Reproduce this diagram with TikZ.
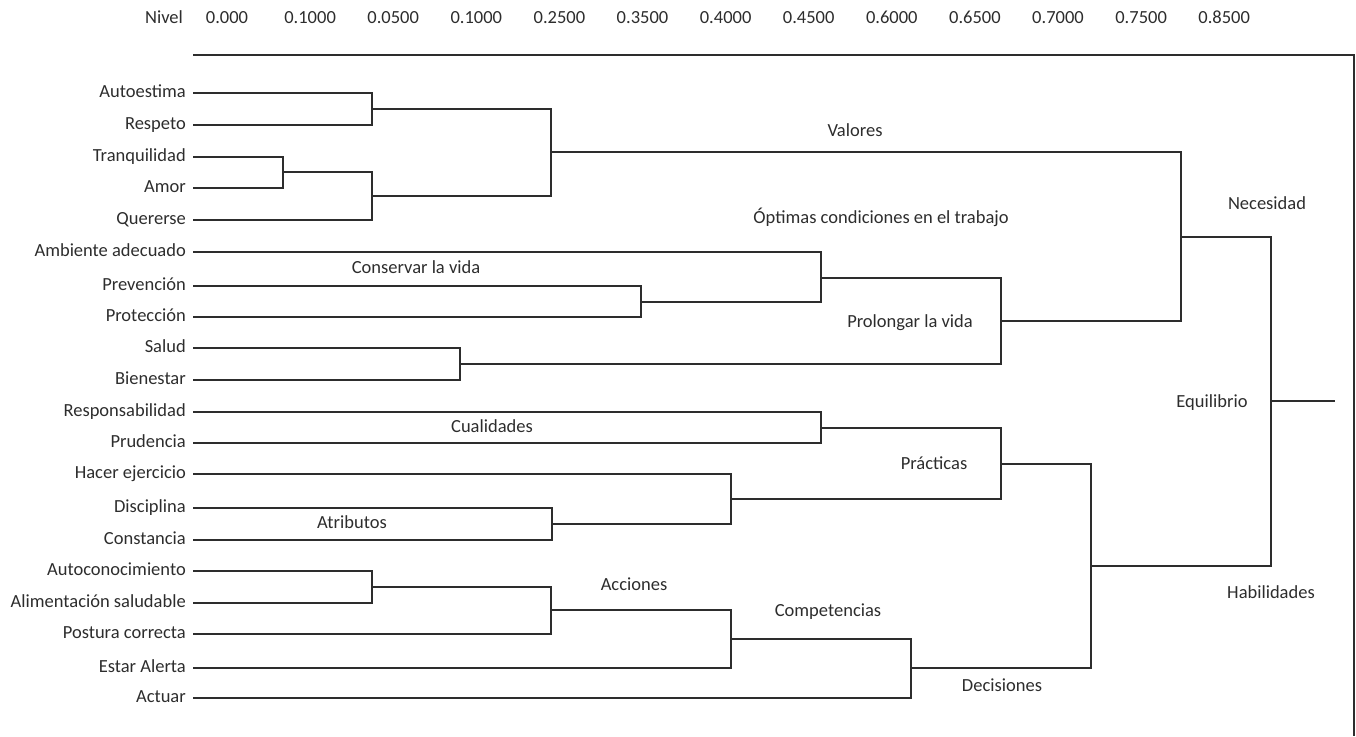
\documentclass[tikz,border=0pt]{standalone}
\usepackage{fontspec}
\setmainfont{Carlito}
\definecolor{ink}{RGB}{45,45,45}
\begin{document}
\begin{tikzpicture}[x=1pt,y=-1pt,
  lbl/.style={font=\fontsize{18.5}{20}\selectfont, text=ink, inner sep=0pt},
  leaf/.style={lbl, anchor=base east},
  grp/.style={lbl, anchor=mid},
  link/.style={draw=ink, line width=1.2pt}]
\useasboundingbox (0,0) rectangle (1356,736);
% axis header
\node[grp] (nivel) at (164,21) {Nivel};
\foreach \v [count=\k from 0] in {0.000,0.1000,0.0500,0.1000,0.2500,0.3500,0.4000,0.4500,0.6000,0.6500,0.7000,0.7500,0.8500}
  \node[grp] (t\k) at (227+83.1*\k,21) {\v};
% frame
\coordinate (f1) at (193,55);
\coordinate (f2) at (1354,55);
\coordinate (f3) at (1354,736);
\draw[link] (f1) -- (f2) -- (f3);
% leaves
\foreach \i/\y/\t in {1/93/Autoestima,2/125/Respeto,3/157/Tranquilidad,4/188/Amor,5/220/Quererse,
  6/252/Ambiente adecuado,7/286/Prevención,8/317/Protección,9/348/Salud,10/380/Bienestar,
  11/412/Responsabilidad,12/443/Prudencia,13/474/Hacer ejercicio,14/508/Disciplina,15/540/Constancia,
  16/571/Autoconocimiento,17/603/Alimentación saludable,18/634/Postura correcta,19/668/Estar Alerta,20/698/Actuar}{
  \coordinate (s\i) at (193,\y);
  \node[leaf] (l\i) at (186,\y+4) {\t};
}
% merges
\coordinate (m1) at (372,109);  \draw[link] (s1) -| (m1) |- (s2);
\coordinate (m2) at (283,172);  \draw[link] (s3) -| (m2) |- (s4);
\coordinate (m3) at (372,196);  \draw[link] (m2) -| (m3) |- (s5);
\coordinate (m4) at (551,152);  \draw[link] (m1) -| (m4) |- (m3);
\coordinate (m5) at (641,302);  \draw[link] (s7) -| (m5) |- (s8);
\coordinate (m6) at (821,278);  \draw[link] (s6) -| (m6) |- (m5);
\coordinate (m7) at (460,364);  \draw[link] (s9) -| (m7) |- (s10);
\coordinate (m8) at (1001,321); \draw[link] (m6) -| (m8) |- (m7);
\coordinate (m9) at (1181,237); \draw[link] (m4) -| (m9) |- (m8);
\coordinate (m10) at (821,428); \draw[link] (s11) -| (m10) |- (s12);
\coordinate (m11) at (552,524); \draw[link] (s14) -| (m11) |- (s15);
\coordinate (m12) at (731,499); \draw[link] (s13) -| (m12) |- (m11);
\coordinate (m13) at (1001,464); \draw[link] (m10) -| (m13) |- (m12);
\coordinate (m14) at (372,587); \draw[link] (s16) -| (m14) |- (s17);
\coordinate (m15) at (551,610); \draw[link] (m14) -| (m15) |- (s18);
\coordinate (m16) at (731,639); \draw[link] (m15) -| (m16) |- (s19);
\coordinate (m17) at (911,668); \draw[link] (m16) -| (m17) |- (s20);
\coordinate (m18) at (1091,566); \draw[link] (m13) -| (m18) |- (m17);
\coordinate (m19) at (1271,401); \draw[link] (m9) -| (m19) |- (m18);
\coordinate (root) at (1335,401); \draw[link] (m19) -- (root);
% group labels
\node[grp] (valores) at (855,134) {Valores};
\node[grp] (optimas) at (881,221) {Óptimas condiciones en el trabajo};
\node[grp] (conservar) at (416,271) {Conservar la vida};
\node[grp] (prolongar) at (910,325) {Prolongar la vida};
\node[grp] (cualidades) at (492,430) {Cualidades};
\node[grp] (practicas) at (934,467) {Prácticas};
\node[grp] (atributos) at (352,526) {Atributos};
\node[grp] (acciones) at (634,588) {Acciones};
\node[grp] (competencias) at (828,614) {Competencias};
\node[grp] (decisiones) at (1002,689) {Decisiones};
\node[grp] (necesidad) at (1267,207) {Necesidad};
\node[grp] (equilibrio) at (1212,405) {Equilibrio};
\node[grp] (habilidades) at (1271,596) {Habilidades};
\end{tikzpicture}
\end{document}
